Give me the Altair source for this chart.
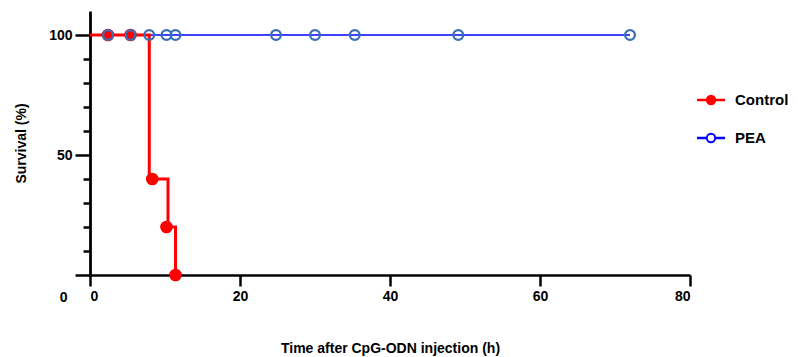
import altair as alt
import pandas as pd

# Control (step curve and plotted symbols)
ctrl_step_t = [0, 7.9, 10.4, 11.4]
ctrl_step_s = [100, 40, 20, 0]
ctrl_pts_t = [2.4, 5.4, 8.3, 10.2, 11.4]
ctrl_pts_s = [100, 100, 40, 20, 0]
# PEA
pea_line_t = [0, 72]
pea_line_s = [100, 100]
pea_pts_t = [2.4, 5.4, 7.9, 10.2, 11.4, 24.8, 30.0, 35.3, 49.1, 72.0]
pea_pts_s = [100] * len(pea_pts_t)

legend_names = ["Control", "PEA"]
legend_colors = ["#ff0000", "#0000ff"]
legend_fill = ["#ff0000", "#ffffff"]

ctrl_line = pd.DataFrame({"t": ctrl_step_t, "s": ctrl_step_s})
ctrl_pts = pd.DataFrame({"t": ctrl_pts_t, "s": ctrl_pts_s})
pea_line = pd.DataFrame({"t": pea_line_t, "s": pea_line_s})
pea_pts = pd.DataFrame({"t": pea_pts_t, "s": pea_pts_s})

FONT = "Liberation Sans"

xenc = alt.X(
    "t:Q",
    scale=alt.Scale(domain=[0, 80], nice=False, zero=False),
    axis=alt.Axis(
        values=[0, 20, 40, 60, 80],
        title="Time after CpG-ODN injection (h)",
        grid=False,
        tickSize=11,
        tickWidth=2.5,
        domainWidth=2.5,
        domainColor="black",
        tickColor="black",
        labelFont=FONT,
        labelFontSize=14,
        labelFontWeight="bold",
        labelColor="black",
        labelPadding=3,
        titleFont=FONT,
        titleFontSize=14,
        titleFontWeight="bold",
        titleColor="black",
        titlePadding=38,
    ),
)
yenc = alt.Y(
    "s:Q",
    scale=alt.Scale(domain=[0, 110], nice=False),
    axis=alt.Axis(
        values=[0, 10, 20, 30, 40, 50, 60, 70, 80, 90, 100],
        title="Survival (%)",
        grid=False,
        tickSize={"condition": {"test": "datum.value % 50 === 0", "value": 15}, "value": 7},
        tickWidth=2.5,
        domainWidth=2.8,
        domainColor="black",
        tickColor="black",
        labelExpr="datum.value % 50 === 0 ? datum.label : ''",
        labelOffset={"condition": {"test": "datum.value === 0", "value": 22}, "value": 0},
        labelPadding={"condition": {"test": "datum.value === 0", "value": 8}, "value": 3},
        labelFont=FONT,
        labelFontSize=14,
        labelFontWeight="bold",
        labelColor="black",
        titleFont=FONT,
        titleFontSize=14,
        titleFontWeight="bold",
        titleColor="black",
        titlePadding=20,
    ),
)

pea_l = alt.Chart(pea_line).mark_line(color="#0000ff", strokeWidth=1.5).encode(x=xenc, y=yenc)
ctrl_l = alt.Chart(ctrl_line).mark_line(color="#ff0000", strokeWidth=3, interpolate="step-after").encode(x=xenc, y=yenc)
ctrl_p = alt.Chart(ctrl_pts).mark_point(filled=True, color="#ff0000", size=160, opacity=1).encode(x=xenc, y=yenc)
pea_p = alt.Chart(pea_pts).mark_point(filled=False, color="#3a6db5", size=95, strokeWidth=2.3, opacity=1).encode(x=xenc, y=yenc)

layers = [pea_l, ctrl_l, ctrl_p, pea_p]

# hand-built legend (layout positions in pixels)
row_y = [89, 127]
for name, col, fill, ry in zip(legend_names, legend_colors, legend_fill, row_y):
    d = pd.DataFrame({"name": [name]})
    layers.append(
        alt.Chart(d).mark_rule(strokeWidth=2.5, color=col).encode(
            x=alt.value(607), x2=alt.value(635), y=alt.value(ry)
        )
    )
    layers.append(
        alt.Chart(d).mark_point(size=70, strokeWidth=2, opacity=1, stroke=col, fill=fill).encode(
            x=alt.value(621), y=alt.value(ry)
        )
    )
    layers.append(
        alt.Chart(d).mark_text(
            align="left", baseline="middle", font=FONT, fontSize=15, fontWeight="bold", color="black"
        ).encode(x=alt.value(645), y=alt.value(ry), text="name:N")
    )

chart = (
    alt.layer(*layers)
    .properties(
        width=600,
        height=264,
        background="white",
        autosize=alt.AutoSizeParams(type="none"),
        padding={"left": 82, "top": 3, "right": 112, "bottom": 82},
    )
    .configure_view(stroke="transparent", strokeWidth=0)
)

chart.save("out.html", embed_options={"renderer": "svg", "actions": False})
